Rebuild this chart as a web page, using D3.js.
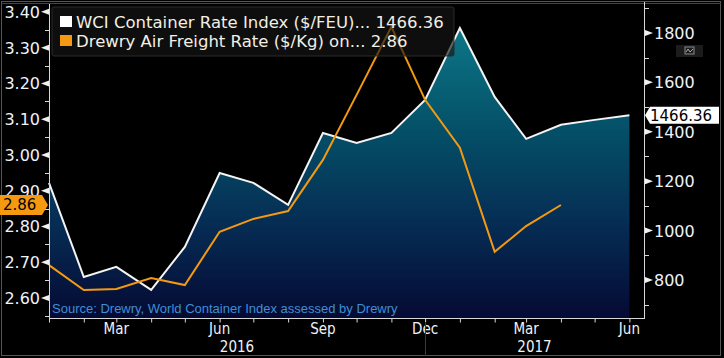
<!DOCTYPE html>
<meta charset="utf-8">
<script src="https://d3js.org/d3.v7.min.js"></script>
<style>
  body { margin: 0; background: #000; }
  svg text { font-family: "DejaVu Sans", Verdana, sans-serif; }
</style>
<div id="chart"></div>
<script>
// monthly readings, first of each month
var months = ["2016-01-01","2016-02-01","2016-03-01","2016-04-01","2016-05-01","2016-06-01",
              "2016-07-01","2016-08-01","2016-09-01","2016-10-01","2016-11-01","2016-12-01",
              "2017-01-01","2017-02-01","2017-03-01","2017-04-01","2017-05-01","2017-06-01"];
// WCI Container Rate Index ($/FEU), right axis
var wciValues = [1193, 812, 853, 760, 934, 1233, 1193, 1104, 1395, 1355, 1395, 1529,
                 1820, 1541, 1371, 1428, 1448, 1466.36];
// Drewry Air Freight Rate ($/Kg), left axis (stops at Apr 2017)
var airValues = [2.692, 2.622, 2.625, 2.656, 2.636, 2.785, 2.821, 2.843, 2.986, 3.168,
                 3.358, 3.154, 3.020, 2.729, 2.801, 2.86];
var leftTicks = [2.60, 2.70, 2.80, 2.90, 3.00, 3.10, 3.20, 3.30, 3.40];
var rightTicks = [800, 1000, 1200, 1400, 1600, 1800];
var quarterLabels = [["2016-03-01","Mar"],["2016-06-01","Jun"],["2016-09-01","Sep"],
                     ["2016-12-01","Dec"],["2017-03-01","Mar"],["2017-06-01","Jun"]];
var yearLabels = ["2016", "2017"];
var legendNames = ["WCI Container Rate Index ($/FEU)... 1466.36",
                   "Drewry Air Freight Rate ($/Kg) on... 2.86"];

var W = 724, H = 358;
var pLeft = 49, pRight = 644, pTop = 4, pBottom = 318;
var parse = d3.timeParse("%Y-%m-%d");
var wci = months.map(function(m, i) { return {date: parse(m), value: wciValues[i]}; });
var air = airValues.map(function(v, i) { return {date: parse(months[i]), value: v}; });

var svg = d3.select("#chart").append("svg").attr("width", W).attr("height", H);
svg.append("rect").attr("width", W).attr("height", H).attr("fill", "#000");

var x = d3.scaleTime().domain([parse("2016-01-01"), parse("2017-06-14")]).range([pLeft, pRight]);
var yL = d3.scaleLinear().domain([2.544, 3.422]).range([pBottom, pTop]);
var yR = d3.scaleLinear().domain([646, 1917]).range([pBottom, pTop]);

// gradient for the area
var grad = svg.append("defs").append("linearGradient")
    .attr("id", "areaGrad").attr("gradientUnits", "userSpaceOnUse")
    .attr("x1", 0).attr("x2", 0).attr("y1", yR(d3.max(wciValues))).attr("y2", pBottom);
[[0, "#0d7787"], [0.35, "#045068"], [0.7, "#062a52"], [1, "#050a33"]].forEach(function(s) {
  grad.append("stop").attr("offset", s[0]).attr("stop-color", s[1]);
});

svg.append("path").datum(wci)
    .attr("fill", "url(#areaGrad)")
    .attr("d", d3.area().x(function(d) { return x(d.date); }).y0(pBottom).y1(function(d) { return yR(d.value); }));

svg.append("path").datum(wci)
    .attr("fill", "none").attr("stroke", "#f4f4f4").attr("stroke-width", 2)
    .attr("d", d3.line().x(function(d) { return x(d.date); }).y(function(d) { return yR(d.value); }));

svg.append("path").datum(air)
    .attr("fill", "none").attr("stroke", "#f59a10").attr("stroke-width", 2)
    .attr("d", d3.line().x(function(d) { return x(d.date); }).y(function(d) { return yL(d.value); }));

// source note
svg.append("text").attr("x", 52).attr("y", 313)
    .style("font-family", "'Liberation Sans', Arial, sans-serif").style("font-size", "13px")
    .attr("fill", "#3f8fd2").text("Source: Drewry, World Container Index assessed by Drewry");

// legend box
var lg = svg.append("g");
lg.append("rect").attr("x", 52).attr("y", 7).attr("width", 402).attr("height", 49).attr("rx", 2)
    .attr("fill", "#161616").attr("fill-opacity", 0.65).attr("stroke", "#2a2a2a");
legendNames.forEach(function(n, i) {
  lg.append("rect").attr("x", 60).attr("y", 16 + i * 19).attr("width", 12).attr("height", 11)
      .attr("fill", i === 0 ? "#ffffff" : "#f59a10");
  lg.append("text").attr("x", 76).attr("y", 27.5 + i * 19).attr("fill", "#f3efe2")
      .style("font-size", "16.5px").text(n);
});

// frame
svg.append("rect").attr("x", 1.5).attr("y", 1.5).attr("width", 719).attr("height", 354)
    .attr("fill", "none").attr("stroke", "#555");
svg.append("line").attr("x1", 1).attr("x2", 721).attr("y1", 3.5).attr("y2", 3.5).attr("stroke", "#444");

// axes lines
var axisCol = "#d8d8d8";
svg.append("line").attr("x1", pLeft + 0.5).attr("x2", pLeft + 0.5).attr("y1", pTop).attr("y2", pBottom).attr("stroke", axisCol);
svg.append("line").attr("x1", pRight + 0.5).attr("x2", pRight + 0.5).attr("y1", 2).attr("y2", pBottom).attr("stroke", axisCol);
svg.append("line").attr("x1", pLeft).attr("x2", pRight + 1).attr("y1", pBottom + 0.5).attr("y2", pBottom + 0.5).attr("stroke", axisCol);

// left axis
var gl = svg.append("g");
d3.range(2.55, 3.42, 0.1).forEach(function(v) {
  gl.append("line").attr("x1", pLeft - 4).attr("x2", pLeft).attr("y1", Math.round(yL(v)) + 0.5)
      .attr("y2", Math.round(yL(v)) + 0.5).attr("stroke", axisCol);
});
leftTicks.forEach(function(v) {
  var yy = yL(v);
  gl.append("path").attr("d", "M" + (pLeft - 8) + "," + yy + "L" + pLeft + "," + (yy - 3) + "L" + pLeft + "," + (yy + 3) + "Z")
      .attr("fill", "#f0f0f0");
  gl.append("text").attr("x", pLeft - 9).attr("y", yy + 6).attr("text-anchor", "end")
      .attr("fill", "#eef2fa").style("font-size", "16px").text(d3.format(".2f")(v));
});

// right axis
var gr = svg.append("g");
d3.range(700, 1901, 200).forEach(function(v) {
  gr.append("line").attr("x1", pRight).attr("x2", pRight + 5).attr("y1", Math.round(yR(v)) + 0.5)
      .attr("y2", Math.round(yR(v)) + 0.5).attr("stroke", axisCol);
});
rightTicks.forEach(function(v) {
  var yy = yR(v);
  gr.append("path").attr("d", "M" + (pRight + 9) + "," + yy + "L" + (pRight + 1) + "," + (yy - 3) + "L" + (pRight + 1) + "," + (yy + 3) + "Z")
      .attr("fill", "#f0f0f0");
  gr.append("text").attr("x", pRight + 10).attr("y", yy + 6)
      .attr("fill", "#eef2fa").style("font-size", "16px").text(v);
});

// small chart icon
svg.append("rect").attr("x", 676).attr("y", 45).attr("width", 27).attr("height", 12).attr("fill", "#1c1c1c");
svg.append("rect").attr("x", 685).attr("y", 47).attr("width", 9).attr("height", 7).attr("fill", "none").attr("stroke", "#888");
svg.append("path").attr("d", "M686,52L688,49L690,52L693,49").attr("fill", "none").attr("stroke", "#aaa");

// bottom axis: month ticks
var gx = svg.append("g").attr("transform", "translate(0," + (pBottom + 0.5) + ")")
    .call(d3.axisBottom(x).ticks(d3.timeMonth.every(1)).tickFormat("").tickSizeOuter(0).tickSize(4));
gx.select(".domain").remove();
gx.selectAll("line").attr("stroke", axisCol);

var labCol = "#eef2fa";
quarterLabels.forEach(function(q) {
  svg.append("text").attr("x", x(parse(q[0]))).attr("y", 334).attr("text-anchor", "middle")
      .attr("fill", labCol).style("font-size", "15px").style("font-stretch", "condensed")
      .style("font-family", "'DejaVu Sans Condensed', 'DejaVu Sans', sans-serif").text(q[1]);
});
var split = x(parse("2016-12-01"));
svg.append("line").attr("x1", Math.round(split) + 0.5).attr("x2", Math.round(split) + 0.5)
    .attr("y1", 322).attr("y2", 356).attr("stroke", "#3a3a3a");
[[pLeft, split], [split, pRight]].forEach(function(r, i) {
  svg.append("text").attr("x", (r[0] + r[1]) / 2).attr("y", 352).attr("text-anchor", "middle")
      .attr("fill", labCol).style("font-size", "15px").style("font-stretch", "condensed")
      .style("font-family", "'DejaVu Sans Condensed', 'DejaVu Sans', sans-serif").text(yearLabels[i]);
});

// last value labels
var lastW = wciValues[wciValues.length - 1], lastA = airValues[airValues.length - 1];
var yw = yR(lastW);
svg.append("path").attr("d", "M" + (pRight + 1) + "," + yw + "L" + (pRight + 6) + "," + (yw - 8.5) +
    "L719," + (yw - 8.5) + "L719," + (yw + 8.5) + "L" + (pRight + 6) + "," + (yw + 8.5) + "Z").attr("fill", "#ffffff");
svg.append("text").attr("x", pRight + 6).attr("y", yw + 5.5).attr("fill", "#000")
    .style("font-size", "15px").text(d3.format(".2f")(lastW));
var ya = yL(lastA);
svg.append("path").attr("d", "M0," + (ya - 10) + "L42," + (ya - 10) + "L48," + ya + "L42," + (ya + 10) + "L0," + (ya + 10) + "Z")
    .attr("fill", "#f59a10");
svg.append("text").attr("x", 3).attr("y", ya + 5.5).attr("fill", "#000")
    .style("font-size", "15px").text(d3.format(".2f")(lastA));
</script>
